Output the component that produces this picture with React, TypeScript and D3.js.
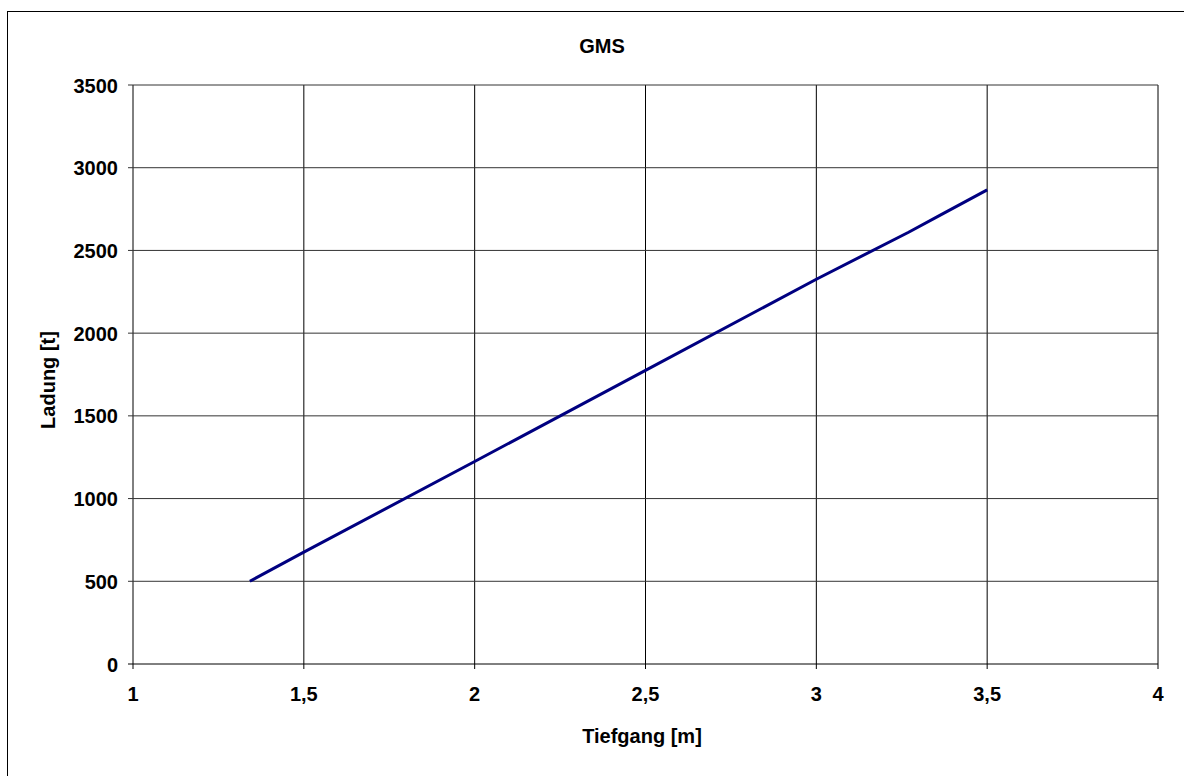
import React from "react";
import * as d3 from "d3";

const tiefgang = [1.342, 1.5, 2.0, 2.5, 3.0, 3.27, 3.36, 3.5];
const ladung = [500, 676, 1224, 1775, 2326, 2610, 2710, 2866];
const xTicks = [1, 1.5, 2, 2.5, 3, 3.5, 4];
const yTicks = [0, 500, 1000, 1500, 2000, 2500, 3000, 3500];

const W = 1184, H = 776;
const L = 133, R = 1158, T = 85, B = 664;

export default function App() {
  const x = d3.scaleLinear().domain([1, 4]).range([L, R]);
  const y = d3.scaleLinear().domain([0, 3500]).range([B, T]);
  const pts = tiefgang.map((t, i) => [t, ladung[i]] as [number, number]);
  const line = d3.line<[number, number]>().x(d => x(d[0])).y(d => y(d[1]));
  const fmt = (v: number) => String(v).replace(".", ",");
  const font = "'Liberation Sans', Arial, sans-serif";
  return (
    <svg width={W} height={H} style={{ position: "absolute", left: 0, top: 0 }} fontFamily={font}>
      <rect x={0} y={0} width={W} height={H} fill="#fff" />
      <rect x={7.5} y={11.5} width={W + 10} height={H + 10} fill="none" stroke="#000" strokeWidth={1} />
      {xTicks.map(t => (
        <line key={"gx" + t} x1={x(t)} x2={x(t)} y1={T} y2={B + 5} stroke="#000" strokeWidth={1} />
      ))}
      {yTicks.map(t => (
        <line key={"gy" + t} x1={L - 5} x2={R} y1={y(t)} y2={y(t)} stroke={t === 0 ? "#000" : "#333"} strokeWidth={1} />
      ))}
      <path d={line(pts) || ""} fill="none" stroke="#000080" strokeWidth={3} />
      {yTicks.map(t => (
        <text key={"ty" + t} x={118} y={y(t) + 7.5} textAnchor="end" fontSize={20} fontWeight="bold">{t}</text>
      ))}
      {xTicks.map(t => (
        <text key={"tx" + t} x={x(t)} y={701} textAnchor="middle" fontSize={20} fontWeight="bold">{fmt(t)}</text>
      ))}
      <text x={602} y={53} textAnchor="middle" fontSize={20} fontWeight="bold">GMS</text>
      <text x={642} y={743} textAnchor="middle" fontSize={20} fontWeight="bold">Tiefgang [m]</text>
      <text transform={`translate(55,380) rotate(-90)`} textAnchor="middle" fontSize={20} fontWeight="bold">Ladung [t]</text>
    </svg>
  );
}
